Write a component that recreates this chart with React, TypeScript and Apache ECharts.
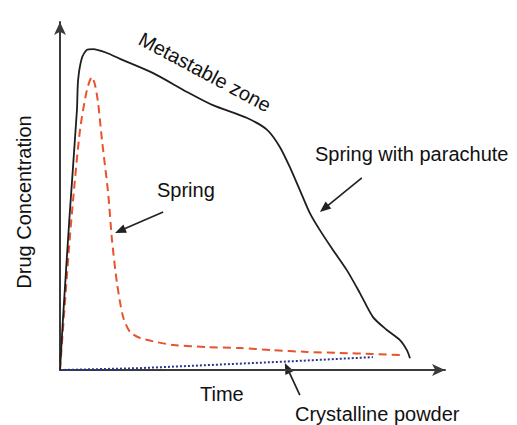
import React, { useEffect, useRef } from "react";
import * as echarts from "echarts";

// Spring with parachute (black solid)
const parachuteTime = [0, 0.8, 2.5, 4.4, 4.7, 5.7, 7.0, 8.6, 12.2, 15.6, 24.2, 33.0, 39.7, 48.6, 53.8, 57.1, 59.7, 62.3, 64.9, 67.5, 70.9, 74.5, 77.9, 81.3, 84.9, 88.3, 90.1, 90.9];
const parachuteConc = [0, 15.2, 44.5, 74.7, 83.3, 89.7, 92.0, 92.2, 91.1, 89.4, 85.3, 79.9, 76.1, 72.4, 69.0, 64.1, 58.3, 51.7, 45.1, 40.2, 34.5, 28.7, 22.1, 15.2, 11.5, 8.6, 5.7, 3.4];

// Spring (red dashed)
const springTime = [0, 2.3, 3.4, 5.2, 7.0, 8.3, 9.1, 9.9, 10.9, 12.5, 13.5, 14.8, 16.4, 18.2, 20.8, 25.2, 29.4, 38.2, 46.8, 55.3, 64.2, 72.7, 81.3, 89.1];
const springConc = [0, 34.5, 48.9, 69.0, 80.5, 84.2, 81.9, 76.7, 66.1, 50.9, 37.4, 25.0, 15.2, 10.9, 9.2, 8.0, 7.2, 6.6, 6.3, 5.7, 5.2, 4.9, 4.6, 4.3];

// Crystalline powder (blue dotted)
const crystTime = [0, 20, 38.2, 60, 81.3];
const crystConc = [0, 0.5, 1.4, 2.5, 3.7];

// Annotation arrows: [fromTime, fromConc, toTime, toConc]
const arrowParachute = [78.4, 55.2, 67.5, 45.4];
const arrowSpring = [26.8, 45.4, 14.3, 39.4];
const arrowCrystalline = [62.3, -7.2, 58.4, 2.0];

const zip = (xs: number[], ys: number[]) => xs.map((x, i) => [x, ys[i]]);

const FONT = "Liberation Sans, Arial, Helvetica, sans-serif";
const TEXT_COLOR = "#111111";
const ARROW_COLOR = "#222222";

export default function App() {
  const ref = useRef<HTMLDivElement>(null);
  useEffect(() => {
    if (!ref.current) return;
    const chart = echarts.init(ref.current, undefined, { renderer: "svg" });
    const text = (t: string, x: number, y: number, extra: any = {}) => ({
      type: "text",
      x,
      y,
      ...extra,
      style: {
        text: t,
        fill: TEXT_COLOR,
        font: `20px ${FONT}`,
        textAlign: extra.align || "left",
        textVerticalAlign: "middle",
      },
    });
    const texts = [
      text("Metastable zone", 205, 72, { align: "center", rotation: -0.49 }),
      text("Spring with parachute", 315, 154),
      text("Spring", 157, 190),
      text("Time", 200, 394),
      text("Crystalline powder", 295, 414),
      text("Drug Concentration", 24, 202, { align: "center", rotation: Math.PI / 2 }),
    ];
    chart.setOption({
      animation: false,
      backgroundColor: "#ffffff",
      grid: { left: 60, right: 72, top: 22, bottom: 55 },
      xAxis: {
        type: "value",
        min: 0,
        max: 100,
        axisLine: {
          lineStyle: { color: "#3a3a3a", width: 2 },
          symbol: ["none", "arrow"],
          symbolSize: [9, 13],
        },
        axisTick: { show: false },
        axisLabel: { show: false },
        splitLine: { show: false },
      },
      yAxis: {
        type: "value",
        min: 0,
        max: 100,
        axisLine: {
          show: true,
          lineStyle: { color: "#3a3a3a", width: 2 },
          symbol: ["none", "arrow"],
          symbolSize: [9, 13],
        },
        axisTick: { show: false },
        axisLabel: { show: false },
        splitLine: { show: false },
      },
      series: [
        {
          type: "line",
          data: zip(crystTime, crystConc),
          showSymbol: false,
          lineStyle: { color: "#2b3590", width: 2, type: [2, 2] },
        },
        {
          type: "line",
          data: zip(springTime, springConc),
          showSymbol: false,
          smooth: 0.25,
          lineStyle: { color: "#e8532d", width: 2, type: [8, 5] },
        },
        {
          type: "line",
          data: zip(parachuteTime, parachuteConc),
          showSymbol: false,
          smooth: 0.25,
          lineStyle: { color: "#1e1e1e", width: 1.8 },
        },
      ],
      graphic: texts,
    });

    // arrows drawn from data coordinates through the chart's own scales
    const arrowGraphic = (a: number[]) => {
      const p1 = chart.convertToPixel({ gridIndex: 0 }, [a[0], a[1]]) as number[];
      const p2 = chart.convertToPixel({ gridIndex: 0 }, [a[2], a[3]]) as number[];
      const dx = p2[0] - p1[0];
      const dy = p2[1] - p1[1];
      const len = Math.sqrt(dx * dx + dy * dy);
      const ux = dx / len;
      const uy = dy / len;
      const headLen = 11;
      const headW = 4.5;
      const bx = p2[0] - ux * headLen;
      const by = p2[1] - uy * headLen;
      return [
        {
          type: "line",
          shape: { x1: p1[0], y1: p1[1], x2: bx + ux * 2, y2: by + uy * 2 },
          style: { stroke: ARROW_COLOR, lineWidth: 1.7 },
        },
        {
          type: "polygon",
          shape: {
            points: [
              [p2[0], p2[1]],
              [bx - uy * headW, by + ux * headW],
              [bx + uy * headW, by - ux * headW],
            ],
          },
          style: { fill: ARROW_COLOR },
        },
      ];
    };
    chart.setOption({
      graphic: [
        ...texts,
        ...arrowGraphic(arrowParachute),
        ...arrowGraphic(arrowSpring),
        ...arrowGraphic(arrowCrystalline),
      ],
    });
    return () => chart.dispose();
  }, []);
  return (
    <div
      ref={ref}
      style={{ position: "fixed", left: 0, top: 0, width: 517, height: 425 }}
    />
  );
}
